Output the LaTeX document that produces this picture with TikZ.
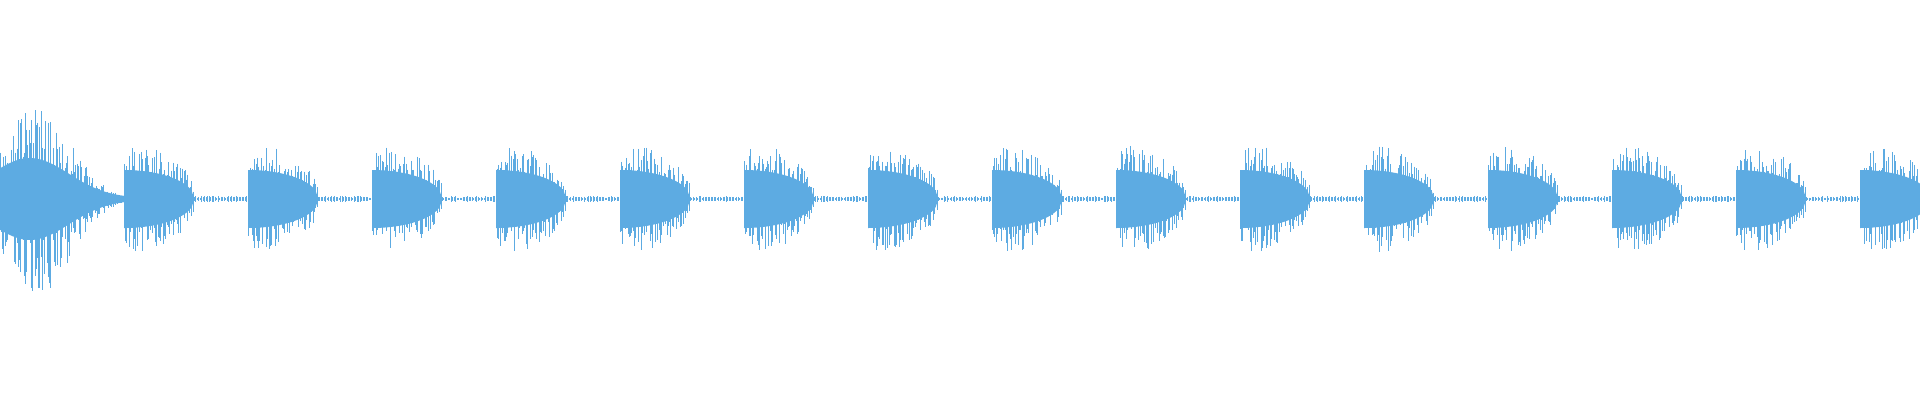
\documentclass[tikz,border=0pt]{standalone}
\definecolor{wave}{RGB}{93,171,226}
\begin{document}
\begin{tikzpicture}[x=1pt,y=-1pt,wl/.style={draw=wave,line width=0.55pt}]
\pgfmathsetseed{7}
\useasboundingbox (0,0) rectangle (1920,400);
\coordinate (c) at (0,199);
% first burst
\fill[wave] (0,160) -- plot[domain=0:124,samples=40] (\x,{199-40*exp(-((\x-30)/55)^2)-1}) -- plot[domain=124:0,samples=40] (\x,{199+40*exp(-((\x-30)/55)^2)+1}) -- cycle;
\foreach \i in {0,1.2,...,122}{
  \pgfmathsetmacro{\env}{95*exp(-((\i-38)/48)^2)}
  \pgfmathsetmacro{\h}{\env*(0.3+0.7*rnd)}
  \pgfmathsetmacro{\g}{\env*(0.3+0.7*rnd)}
  \draw[wl] (\i,199-\h) -- (\i,199+\g);
}
% other bursts
\foreach \k in {1,...,15}{
  \pgfmathsetmacro{\xo}{124*\k}
  \fill[wave] (\xo,199) -- plot[domain=0:70,samples=30] (\xo+\x,{199-28*sqrt(max(0,1-(\x/70)^2))-1}) -- plot[domain=70:0,samples=30] (\xo+\x,{199+28*sqrt(max(0,1-(\x/70)^2))+1}) -- cycle;
  \foreach \i in {0,1.3,...,69}{
    \pgfmathsetmacro{\env}{56*sqrt(max(0,1-(\i/72)^2))*(1-0.3*exp(-\i/6))}
    \pgfmathsetmacro{\h}{\env*(0.35+0.65*rnd)}
    \pgfmathsetmacro{\g}{\env*(0.35+0.65*rnd)}
    \draw[wl] (\xo+\i,199-\h) -- (\xo+\i,199+\g);
  }
  \ifnum\k<15
  \foreach \j in {70,71.5,...,123}{
    \pgfmathsetmacro{\h}{1+2*rnd}
    \draw[draw=wave,line width=0.4pt] (\xo+\j,199-\h) -- (\xo+\j,199+\h);
  }
  \fi
}
\end{tikzpicture}
\end{document}
